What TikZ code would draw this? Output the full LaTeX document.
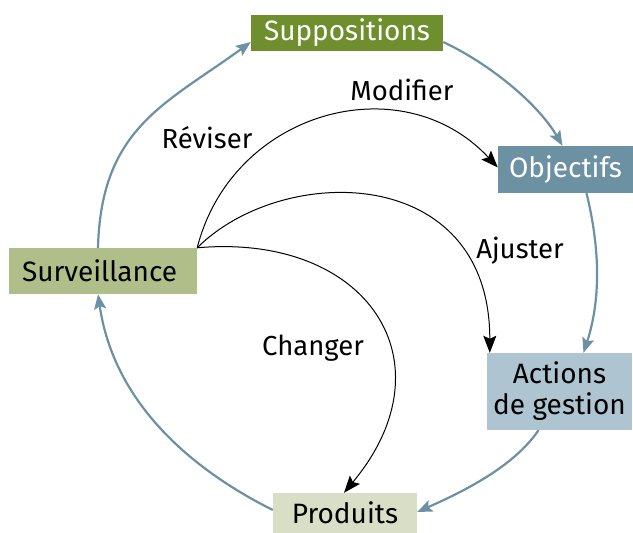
\documentclass[tikz,border=0pt]{standalone}
\usepackage{fontspec}
\setmainfont{Fira Sans}
\usepackage{tikz}
\usetikzlibrary{arrows.meta}
\definecolor{suppgreen}{RGB}{111,143,47}
\definecolor{survgreen}{RGB}{176,191,138}
\definecolor{prodgreen}{RGB}{217,222,198}
\definecolor{objblue}{RGB}{108,145,163}
\definecolor{actblue}{RGB}{174,196,208}
\definecolor{cycleblue}{RGB}{108,145,165}

\begin{document}
\begin{tikzpicture}[x=1pt,y=-1pt,
  box/.style={inner sep=0pt,font=\fontsize{28}{31}\selectfont},
  lbl/.style={font=\fontsize{27.5}{31}\selectfont},
  outer/.style={cycleblue,line width=2.2pt,-{Stealth[length=15pt,width=12pt,inset=3pt]}},
  inner/.style={black,line width=1pt,-{Stealth[length=17pt,width=13pt,inset=3pt]}}]
  \useasboundingbox (0,0) rectangle (633,533);
  % boxes
  \node[box,fill=suppgreen,text=white,minimum width=192pt,minimum height=36pt] (supp) at (347,33) {Suppositions};
  \node[box,fill=objblue,text=white,minimum width=135pt,minimum height=47pt] (obj) at (565.5,169.5) {Objectifs};
  \node[box,fill=actblue,minimum width=145pt,minimum height=77pt,align=center] (act) at (559.5,391.5) {Actions\\de gestion};
  \node[box,fill=prodgreen,minimum width=144pt,minimum height=40pt] (prod) at (345,513) {Produits};
  \node[box,fill=survgreen,text width=162pt,inner xsep=13pt,minimum height=46pt,align=left] (surv) at (103,271) {Surveillance};
  % labels
  \node[lbl] (rev) at (207,138) {Réviser};
  \node[lbl] (mod) at (402,90) {Modifier};
  \node[lbl] (adj) at (520,251) {Ajuster};
  \node[lbl] (chg) at (313,348) {Changer};
  % outer cycle
  \draw[outer] ([xshift=-5pt]surv.north) .. controls +(3,-120) and +(-85,62) .. ([yshift=-9pt]supp.west);
  \draw[outer] ([yshift=-9pt]supp.east) .. controls +(45,21) and +(-25,-43) .. ([xshift=-3pt]obj.north);
  \draw[outer] ([xshift=21pt]obj.south) .. controls +(14,57) and +(17,-52) .. ([xshift=24pt]act.north);
  \draw[outer] ([xshift=-21pt]act.south) .. controls +(-25,37) and +(45,-20) .. ([yshift=1pt]prod.east);
  \draw[outer] ([yshift=3pt]prod.west) .. controls +(-80,-40) and +(16,110) .. ([xshift=-5pt]surv.south);
  % inner arcs
  \draw[inner] (surv.north east) .. controls +(35,-137) and +(-96,-103) .. ([yshift=2pt]obj.west);
  \draw[inner] (surv.north east) .. controls +(85,-85) and +(0,-190) .. ([xshift=3pt]act.north west);
  \draw[inner] (surv.north east) .. controls +(170,-15) and +(109,-131) .. ([xshift=-1pt]prod.north);
\end{tikzpicture}
\end{document}
